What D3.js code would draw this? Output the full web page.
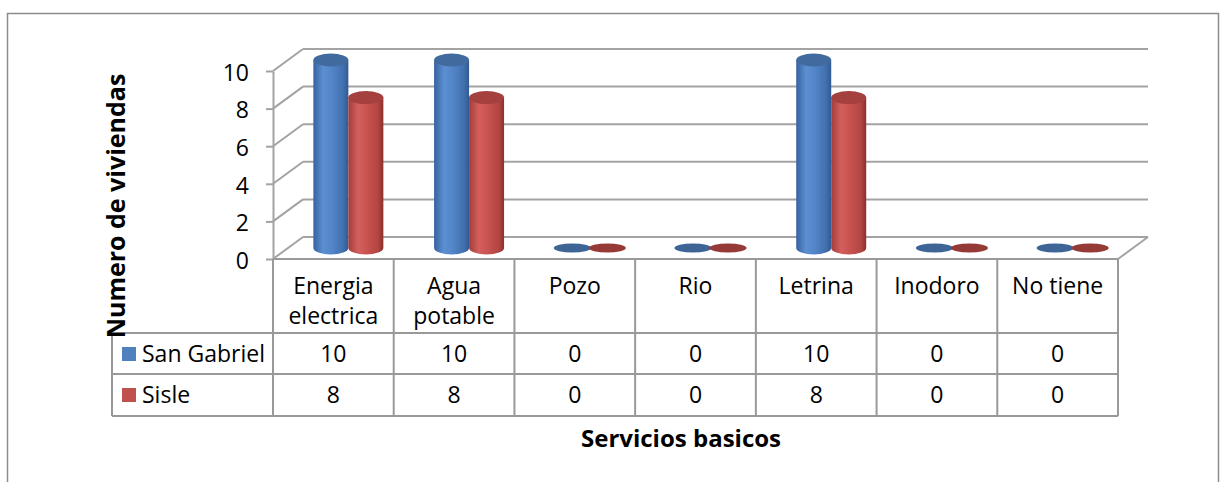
<!DOCTYPE html>
<html>
<head>
<meta charset="utf-8">
<script src="https://cdn.jsdelivr.net/npm/d3@7"></script>
<style>
  html, body { margin: 0; padding: 0; background: #fff; }
  svg { display: block; font-family: "Open Sans", "Liberation Sans", sans-serif; }
</style>
</head>
<body>
<svg id="chart" width="1229" height="482"></svg>
<script>
// Servicios basicos por comunidad
const categories = ["Energia electrica", "Agua potable", "Pozo", "Rio", "Letrina", "Inodoro", "No tiene"];
const seriesNames = ["San Gabriel", "Sisle"];
const sanGabriel = [10, 10, 0, 0, 10, 0, 0];
const sisle = [8, 8, 0, 0, 8, 0, 0];
const yTicks = [0, 2, 4, 6, 8, 10];
const yTitle = "Numero de viviendas";
const xTitle = "Servicios basicos";

const seriesValues = [sanGabriel, sisle];
const seriesColors = [
  { stops: ["#37639f", "#5b8fd2", "#5487ca", "#4270af", "#315a93"], top: "#416a9f", flat: "#3f6597", swatch: "#4f81bd" },
  { stops: ["#a33d3b", "#d35f5c", "#cb5451", "#b24542", "#8c2f2d"], top: "#a4403e", flat: "#963a38", swatch: "#c0504d" }
];

const svg = d3.select("#chart");
const defs = svg.append("defs");

// layout
const plotLeft = 273, plotRight = 1118, floorY = 259, topY = 71;
const depthX = 30, depthY = -22;
const gridColor = "#a3a3a3";
const tableColor = "#999999";

const x = d3.scaleBand().domain(categories).range([plotLeft, plotRight]);
const y = d3.scaleLinear().domain([0, 10]).range([floorY, topY]);

// chart area border
svg.append("rect")
  .attr("x", 7.5).attr("y", 13.5).attr("width", 1211).attr("height", 490)
  .attr("fill", "none").attr("stroke", "#8c8c8c").attr("stroke-width", 1.5);

// walls: side wall diagonals and back wall gridlines
const walls = svg.append("g").attr("stroke", gridColor).attr("stroke-width", 2).attr("fill", "none");
yTicks.forEach(t => {
  walls.append("line")
    .attr("x1", plotLeft).attr("y1", y(t))
    .attr("x2", plotLeft + depthX).attr("y2", y(t) + depthY);
  walls.append("line")
    .attr("x1", plotLeft + depthX).attr("y1", y(t) + depthY)
    .attr("x2", plotRight + depthX).attr("y2", y(t) + depthY);
});
// floor right edge
walls.append("line")
  .attr("x1", plotRight).attr("y1", floorY)
  .attr("x2", plotRight + depthX).attr("y2", floorY + depthY);

const textSize = 23;

// y axis
const yAxis = d3.axisLeft(y).tickValues(yTicks).tickSize(7).tickSizeOuter(0).tickPadding(17);
const yg = svg.append("g").attr("transform", `translate(${plotLeft},0)`).call(yAxis);
yg.select(".domain").attr("stroke", gridColor).attr("stroke-width", 2);
yg.selectAll(".tick line").attr("stroke", gridColor).attr("stroke-width", 2);
yg.selectAll(".tick text")
  .attr("font-size", textSize).attr("fill", "#000")
  .attr("font-family", "'Open Sans', sans-serif")
  .attr("dy", "0.4em");

// cylinders, drawn at half depth
const barW = 35, rx = barW / 2, ry = 6.5, flatRy = 4.5;
const midX = depthX / 2, midY = depthY / 2;

seriesColors.forEach((c, i) => {
  const g = defs.append("linearGradient").attr("id", "cyl" + i)
    .attr("x1", "0%").attr("x2", "100%").attr("y1", "0%").attr("y2", "0%");
  [0, 28, 50, 85, 100].forEach((o, k) => {
    g.append("stop").attr("offset", o + "%").attr("stop-color", c.stops[k]);
  });
});

const bars = svg.append("g");
categories.forEach((cat, ci) => {
  const cx = x(cat) + x.bandwidth() / 2 + midX;
  seriesValues.forEach((vals, si) => {
    const v = vals[ci];
    const xl = si === 0 ? cx - barW : cx;
    const xr = xl + barW;
    const yb = y(0) + midY;
    const yt = y(v) + midY;
    const col = seriesColors[si];
    if (v === 0) {
      bars.append("ellipse")
        .attr("cx", xl + rx).attr("cy", yb)
        .attr("rx", rx + 1).attr("ry", flatRy)
        .attr("fill", col.flat);
      return;
    }
    bars.append("path")
      .attr("d", `M${xl},${yt} L${xl},${yb} A${rx},${ry} 0 0 0 ${xr},${yb} L${xr},${yt} Z`)
      .attr("fill", `url(#cyl${si})`);
    bars.append("ellipse")
      .attr("cx", xl + rx).attr("cy", yt)
      .attr("rx", rx).attr("ry", ry)
      .attr("fill", col.top);
  });
});

// data table
const rowTop = floorY, headerBottom = 333, row1Bottom = 374, row2Bottom = 416;
const legendLeft = 112;
const table = svg.append("g").attr("stroke", tableColor).attr("stroke-width", 2).attr("fill", "none");
// horizontal lines
table.append("line").attr("x1", plotLeft).attr("x2", plotRight).attr("y1", rowTop).attr("y2", rowTop);
[headerBottom, row1Bottom, row2Bottom].forEach(yy => {
  table.append("line").attr("x1", legendLeft).attr("x2", plotRight).attr("y1", yy).attr("y2", yy);
});
// vertical lines
table.append("line").attr("x1", legendLeft).attr("x2", legendLeft).attr("y1", headerBottom).attr("y2", row2Bottom);
categories.forEach(cat => {
  table.append("line").attr("x1", x(cat)).attr("x2", x(cat)).attr("y1", rowTop).attr("y2", row2Bottom);
});
table.append("line").attr("x1", plotRight).attr("x2", plotRight).attr("y1", rowTop).attr("y2", row2Bottom);

const txt = svg.append("g").attr("font-size", textSize).attr("fill", "#000").attr("text-anchor", "middle");

// header labels with word wrap inside the column
categories.forEach(cat => {
  const cx = x(cat) + x.bandwidth() / 2;
  const words = cat.split(" ");
  const lines = [];
  let cur = "";
  const probe = txt.append("text").attr("visibility", "hidden");
  words.forEach(w => {
    const test = cur ? cur + " " + w : w;
    probe.text(test);
    if (cur && probe.node().getComputedTextLength() > x.bandwidth() - 10) {
      lines.push(cur); cur = w;
    } else cur = test;
  });
  lines.push(cur);
  probe.remove();
  lines.forEach((l, li) => {
    txt.append("text").attr("x", cx).attr("y", 294 + li * 30).text(l);
  });
});

// value rows
const rowBaselines = [362, 403];
seriesValues.forEach((vals, si) => {
  vals.forEach((v, ci) => {
    txt.append("text")
      .attr("x", x(categories[ci]) + x.bandwidth() / 2)
      .attr("y", rowBaselines[si])
      .text(v);
  });
  // legend key
  svg.append("rect")
    .attr("x", 122).attr("y", rowBaselines[si] - 15)
    .attr("width", 14).attr("height", 14)
    .attr("fill", seriesColors[si].swatch);
  svg.append("text")
    .attr("x", 142).attr("y", rowBaselines[si])
    .attr("font-size", textSize).attr("fill", "#000")
    .text(seriesNames[si]);
});

// axis titles
svg.append("text")
  .attr("transform", "translate(125,206) rotate(-90)")
  .attr("text-anchor", "middle")
  .attr("font-size", 25).attr("font-weight", "bold").attr("fill", "#000")
  .text(yTitle);

svg.append("text")
  .attr("x", 681).attr("y", 447)
  .attr("text-anchor", "middle")
  .attr("font-size", 24).attr("font-weight", "bold").attr("fill", "#000")
  .text(xTitle);
</script>
</body>
</html>
